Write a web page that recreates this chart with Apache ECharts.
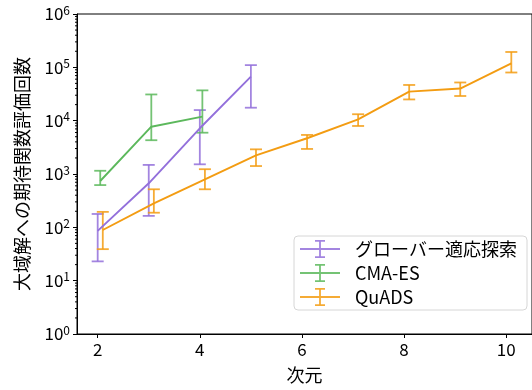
<!DOCTYPE html>
<html>
<head>
<meta charset="utf-8">
<script src="https://cdn.jsdelivr.net/npm/echarts@6/dist/echarts.min.js"></script>
<style>
  html, body { margin: 0; padding: 0; background: #fff; }
  #chart { width: 532px; height: 390px; }
</style>
</head>
<body>
<div id="chart"></div>
<script>
// 次元ごとの期待関数評価回数 (中央値 / 下限 / 上限)
var groverX = [2, 3, 4, 5]
var groverY = [86, 670, 7200, 66800]
var groverLow = [23, 164, 1520, 17500]
var groverHigh = [178, 1480, 15800, 110000]

var cmaX = [2.05, 3.05, 4.05]
var cmaY = [740, 7700, 11900]
var cmaLow = [620, 4300, 5950]
var cmaHigh = [1150, 31000, 37000]

var quadsX = [2.1, 3.1, 4.1, 5.1, 6.1, 7.1, 8.1, 9.1, 10.1]
var quadsY = [89, 282, 795, 2240, 4680, 10600, 35000, 40000, 119000]
var quadsLow = [39, 188, 517, 1410, 2950, 7950, 25000, 29000, 80000]
var quadsHigh = [195, 517, 1230, 2900, 5400, 13200, 46700, 52000, 194000]

var xTicks = [2, 4, 6, 8, 10]
var seriesNames = ['グローバー適応探索', 'CMA-ES', 'QuADS']
var colors = ['#9370db', '#5cb85c', '#f39c12']

var FONT = '"Noto Sans CJK JP", "Noto Sans", sans-serif'
var XMIN = 1.595
var XMAX = 10.505

var chart = echarts.init(document.getElementById('chart'))

function zip(xs, ys) {
  return xs.map(function (x, i) { return [x, ys[i]] })
}
function zip3(xs, lo, hi) {
  return xs.map(function (x, i) { return [x, lo[i], hi[i]] })
}

function errorBars(name, color, data) {
  return {
    name: name,
    type: 'custom',
    data: data,
    z: 3,
    renderItem: function (params, api) {
      var lo = api.coord([api.value(0), api.value(1)])
      var hi = api.coord([api.value(0), api.value(2)])
      var w = 6
      var style = { stroke: color, lineWidth: 1.8, opacity: 0.85 }
      return {
        type: 'group',
        children: [
          { type: 'line', shape: { x1: lo[0], y1: lo[1], x2: hi[0], y2: hi[1] }, style: style },
          { type: 'line', shape: { x1: lo[0] - w, y1: lo[1], x2: lo[0] + w, y2: lo[1] }, style: style },
          { type: 'line', shape: { x1: hi[0] - w, y1: hi[1], x2: hi[0] + w, y2: hi[1] }, style: style }
        ]
      }
    }
  }
}

function lineSeries(name, color, data) {
  return {
    name: name,
    type: 'line',
    data: data,
    symbol: 'none',
    z: 4,
    lineStyle: { color: color, width: 1.9 },
    itemStyle: { color: color }
  }
}

// log軸の補助目盛 (2..9 × 10^n)
var minorTicks = []
for (var e = 0; e < 6; e++) {
  for (var k = 2; k <= 9; k++) minorTicks.push([XMIN, k * Math.pow(10, e)])
}

var legendIcon = 'path://M0,10.1h40v1.8h-40z M19.1,2h1.8v18h-1.8z M15,2h10v1.8h-10z M15,18.2h10v1.8h-10z'

chart.setOption({
  animation: false,
  textStyle: { fontFamily: FONT },
  grid: {
    left: 77,
    top: 14,
    right: -4,
    bottom: 56,
    show: true,
    borderColor: '#000',
    borderWidth: 1,
    backgroundColor: 'transparent'
  },
  legend: {
    right: 5,
    top: 236,
    orient: 'vertical',
    itemWidth: 40,
    itemHeight: 22,
    itemGap: 6,
    padding: [4, 10, 4, 6],
    borderColor: '#d6d6d6',
    borderWidth: 1,
    borderRadius: 4,
    backgroundColor: 'rgba(255,255,255,0.8)',
    textStyle: { fontSize: 18, color: '#000', fontFamily: FONT, padding: [0, 0, 0, 10] },
    data: seriesNames.map(function (n, i) {
      return { name: n, icon: legendIcon, itemStyle: { color: colors[i], opacity: 0.85 } }
    })
  },
  xAxis: {
    type: 'value',
    min: XMIN,
    max: XMAX,
    name: '次元',
    nameLocation: 'middle',
    nameGap: 32,
    nameTextStyle: { fontSize: 18, color: '#000', fontFamily: FONT },
    splitLine: { show: false },
    axisLine: { show: true, lineStyle: { color: '#000', width: 1 } },
    axisTick: { show: true, length: 4, lineStyle: { color: '#000' }, customValues: xTicks },
    axisLabel: { fontSize: 17, color: '#000', margin: 7, customValues: xTicks }
  },
  yAxis: {
    type: 'log',
    logBase: 10,
    min: 1,
    max: 1000000,
    interval: 1,
    name: '大域解への期待関数評価回数',
    nameLocation: 'middle',
    nameGap: 46,
    nameTextStyle: { fontSize: 18, color: '#000', fontFamily: FONT },
    splitLine: { show: false },
    axisLine: { show: true, lineStyle: { color: '#000', width: 1 } },
    axisTick: { show: true, length: 4, lineStyle: { color: '#000' } },
    axisLabel: {
      fontSize: 17,
      color: '#000',
      margin: 7,
      formatter: function (v) {
        return '10{s|' + Math.round(Math.log10(v)) + '}'
      },
      rich: {
        s: { fontSize: 12, verticalAlign: 'top', padding: [0, 0, 8, 0], color: '#000' }
      }
    }
  },
  series: [
    {
      type: 'custom',
      silent: true,
      clip: false,
      data: minorTicks,
      renderItem: function (params, api) {
        var p = api.coord([api.value(0), api.value(1)])
        return {
          type: 'line',
          shape: { x1: p[0] - 2, y1: p[1], x2: p[0], y2: p[1] },
          style: { stroke: '#000', lineWidth: 1 }
        }
      }
    },
    errorBars(seriesNames[0], colors[0], zip3(groverX, groverLow, groverHigh)),
    lineSeries(seriesNames[0], colors[0], zip(groverX, groverY)),
    errorBars(seriesNames[1], colors[1], zip3(cmaX, cmaLow, cmaHigh)),
    lineSeries(seriesNames[1], colors[1], zip(cmaX, cmaY)),
    errorBars(seriesNames[2], colors[2], zip3(quadsX, quadsLow, quadsHigh)),
    lineSeries(seriesNames[2], colors[2], zip(quadsX, quadsY))
  ]
})
</script>
</body>
</html>
